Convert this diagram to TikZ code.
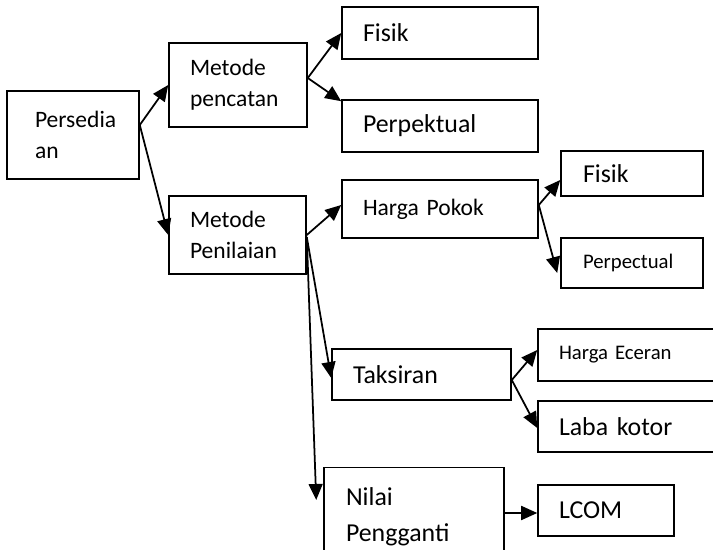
\documentclass[tikz,border=0pt]{standalone}
\usepackage{fontspec}
\setmainfont{Carlito}
\usetikzlibrary{arrows.meta}

\newcommand{\bigtxt}{\fontsize{14.7}{20.4}\selectfont}
\newcommand{\midtxt}{\fontsize{13.4}{17.6}\selectfont}
\newcommand{\smalltxt}{\fontsize{11.8}{15}\selectfont}

\tikzset{
  box/.style={draw, line width=0.9pt, inner xsep=0pt, align=left},
  arr/.style={line width=1pt, -{Triangle[length=3.2mm,width=2.8mm]}}
}

\begin{document}
\begin{tikzpicture}[x=0.02cm, y=-0.02cm]
\useasboundingbox (0,0) rectangle (713,550);

% Boxes
\node[box, minimum width=2.64cm, minimum height=1.76cm, text width=1.52cm, font=\midtxt] (pers) at (73,135) {Persedia\\an};
\node[box, minimum width=2.76cm, minimum height=1.68cm, text width=1.92cm, font=\midtxt] (pencat) at (238,85) {Metode\\pencatan};
\node[box, minimum width=2.74cm, minimum height=1.56cm, text width=1.90cm, font=\midtxt] (penil) at (237.5,235) {Metode\\Penilaian};
\node[box, minimum width=3.92cm, minimum height=1.04cm, text width=3.08cm, font=\bigtxt] (fisik) at (440,33) {Fisik};
\node[box, minimum width=3.92cm, minimum height=1.04cm, text width=3.08cm, font=\bigtxt] (perpek) at (440,126) {Perpektual};
\node[box, minimum width=3.92cm, minimum height=1.16cm, text width=3.08cm, font=\midtxt] (hpokok) at (440,209) {Harga Pokok};
\node[box, minimum width=2.84cm, minimum height=0.9cm, text width=1.96cm, font=\bigtxt] (fisikb) at (632,173.5) {Fisik};
\node[box, minimum width=2.84cm, minimum height=1.0cm, text width=1.96cm, font=\smalltxt] (perpec) at (632,263) {Perpectual};
\node[box, minimum width=3.58cm, minimum height=1.02cm, text width=2.74cm, font=\bigtxt] (taks) at (421.5,374.5) {Taksiran};
\node[box, minimum width=3.64cm, minimum height=1.04cm, text width=2.80cm, font=\smalltxt] (ecer) at (629,355) {Harga Eceran};
\node[box, minimum width=3.64cm, minimum height=1.02cm, text width=2.80cm, font=\bigtxt] (laba) at (629,426.5) {Laba kotor};
\node[box, minimum width=3.6cm, minimum height=1.98cm, text width=2.72cm, font=\bigtxt] (nilai) at (414,517) {Nilai\\Pengganti};
\node[box, minimum width=2.72cm, minimum height=1.02cm, text width=1.88cm, font=\bigtxt] (lcom) at (606,510.5) {LCOM};

% Arrows
\draw[arr] ([yshift=0.2cm]pers.east) -- (pencat.west);
\draw[arr] ([yshift=0.2cm]pers.east) -- (penil.west);
\draw[arr] ([yshift=0.14cm]pencat.east) -- (fisik.west);
\draw[arr] ([yshift=0.14cm]pencat.east) -- ([yshift=-0.04cm]perpek.north west);
\draw[arr] (penil.east) -- ([yshift=0.08cm]hpokok.west);
\draw[arr] ([yshift=-0.04cm]penil.east) -- ([yshift=-0.07cm]taks.west);
\draw[arr] ([yshift=-0.04cm]penil.east) -- ([xshift=-0.14cm,yshift=0.34cm]nilai.west);
\draw[arr] ([yshift=0.08cm]hpokok.east) -- ([yshift=-0.13cm]fisikb.west);
\draw[arr] ([yshift=0.08cm]hpokok.east) -- ([xshift=-0.06cm,yshift=-0.2cm]perpec.west);
\draw[arr] ([yshift=-0.11cm]taks.east) -- ([yshift=0.1cm]ecer.west);
\draw[arr] ([yshift=-0.11cm]taks.east) -- ([yshift=-0.03cm]laba.west);
\draw[arr] ([yshift=0.08cm]nilai.east) -- ([yshift=0.08cm]nilai.east -| lcom.west);
\end{tikzpicture}
\end{document}
